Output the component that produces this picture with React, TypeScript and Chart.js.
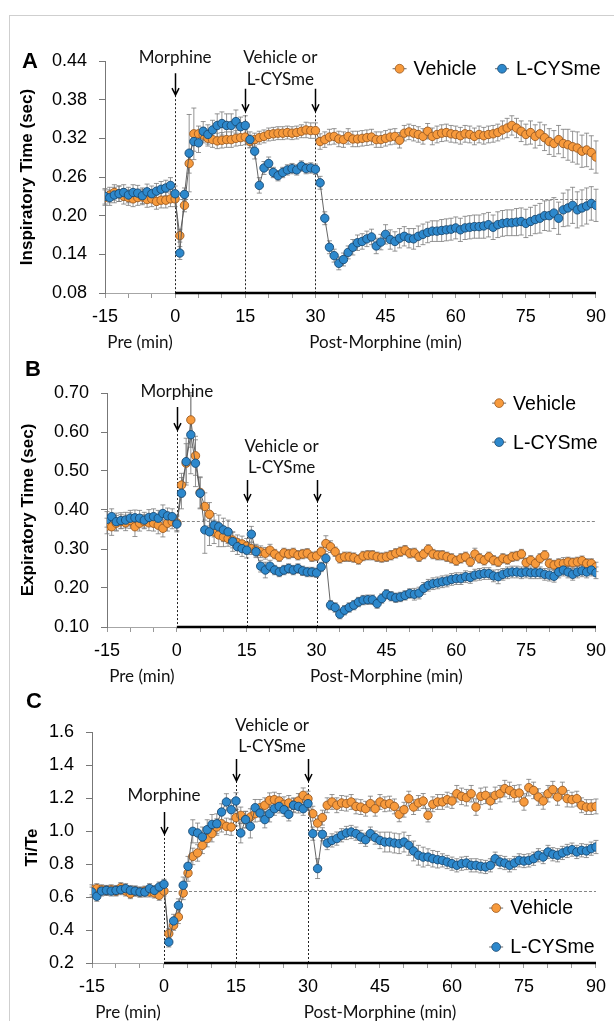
import React, { useEffect, useRef } from 'react';
import { Chart, registerables } from 'chart.js';

Chart.register(...registerables);

// ---------------- DATA ----------------
const minutes = [
  -15, -14, -13, -12, -11, -10, -9, -8, -7, -6, -5, -4, -3, -2, -1, 0,
  1, 2, 3, 4, 5, 6, 7, 8, 9, 10, 11, 12, 13, 14, 15, 16, 17, 18, 19, 20,
  21, 22, 23, 24, 25, 26, 27, 28, 29, 30, 31, 32, 33, 34, 35, 36, 37, 38, 39, 40,
  41, 42, 43, 44, 45, 46, 47, 48, 49, 50, 51, 52, 53, 54, 55, 56, 57, 58, 59, 60,
  61, 62, 63, 64, 65, 66, 67, 68, 69, 70, 71, 72, 73, 74, 75, 76, 77, 78, 79, 80,
  81, 82, 83, 84, 85, 86, 87, 88, 89, 90,
];

const seriesNames = ['Vehicle', 'L-CYSme'];
const xSubTitles = ['Pre (min)', 'Post-Morphine (min)'];
const xTickLabels = ['-15', '0', '15', '30', '45', '60', '75', '90'];

// Panel A: Inspiratory time (sec)
const tiVehicle = [
  0.228, 0.232, 0.236, 0.234, 0.230, 0.228, 0.226, 0.228, 0.229, 0.225, 0.226, 0.222, 0.224, 0.224, 0.226, 0.226,
  0.169, 0.216, 0.281, 0.327, 0.327, 0.325, 0.320, 0.318, 0.316, 0.317,
  0.318, 0.318, 0.320, 0.321, 0.322, 0.315, 0.318, 0.321, 0.323, 0.326,
  0.327, 0.328, 0.328, 0.329, 0.328, 0.329, 0.331, 0.333, 0.332, 0.332,
  0.315, 0.318, 0.322, 0.323, 0.319, 0.318, 0.323, 0.319, 0.319, 0.320,
  0.321, 0.322, 0.318, 0.318, 0.320, 0.322, 0.323, 0.317, 0.328, 0.330,
  0.328, 0.326, 0.323, 0.331, 0.323, 0.326, 0.328, 0.329, 0.327, 0.326,
  0.324, 0.327, 0.326, 0.323, 0.326, 0.324, 0.326, 0.327, 0.329, 0.333,
  0.336, 0.340, 0.336, 0.331, 0.326, 0.329, 0.323, 0.327, 0.321, 0.315,
  0.312, 0.318, 0.312, 0.310, 0.307, 0.305, 0.300, 0.302, 0.298, 0.291,
];
const tiVehicleErr = [
  0.012, 0.012, 0.012, 0.012, 0.012, 0.012, 0.012, 0.012, 0.012, 0.012, 0.012, 0.012, 0.012, 0.012, 0.012, 0.012,
  0.010, 0.010, 0.015, 0.040, 0.012, 0.012, 0.012, 0.012, 0.012, 0.012,
  0.012, 0.012, 0.012, 0.012, 0.012, 0.010, 0.010, 0.010, 0.010, 0.010,
  0.010, 0.010, 0.010, 0.010, 0.010, 0.010, 0.010, 0.012, 0.012, 0.012,
  0.012, 0.012, 0.012, 0.012, 0.012, 0.012, 0.012, 0.012, 0.012, 0.012,
  0.012, 0.012, 0.012, 0.012, 0.012, 0.012, 0.012, 0.012, 0.012, 0.012,
  0.012, 0.012, 0.012, 0.012, 0.013, 0.013, 0.013, 0.013, 0.013, 0.013,
  0.013, 0.013, 0.013, 0.013, 0.013, 0.013, 0.013, 0.013, 0.013, 0.014,
  0.015, 0.015, 0.015, 0.016, 0.016, 0.018, 0.018, 0.018, 0.020, 0.020,
  0.020, 0.022, 0.022, 0.024, 0.024, 0.025, 0.025, 0.026, 0.026, 0.025,
];
const tiCys = [
  0.230, 0.228, 0.232, 0.234, 0.236, 0.232, 0.236, 0.235, 0.231, 0.237, 0.234, 0.238, 0.241, 0.243, 0.247, 0.234,
  0.142, 0.233, 0.297, 0.315, 0.313, 0.331, 0.326, 0.333, 0.340, 0.343,
  0.340, 0.340, 0.346, 0.338, 0.340, 0.318, 0.300, 0.247, 0.274, 0.281,
  0.267, 0.262, 0.267, 0.271, 0.273, 0.271, 0.277, 0.273, 0.274, 0.272,
  0.251, 0.196, 0.151, 0.138, 0.126, 0.132, 0.143, 0.151, 0.158, 0.160,
  0.164, 0.167, 0.153, 0.159, 0.171, 0.163, 0.160, 0.165, 0.168, 0.165,
  0.164, 0.168, 0.171, 0.174, 0.176, 0.176, 0.177, 0.178, 0.179, 0.181,
  0.178, 0.181, 0.182, 0.183, 0.183, 0.184, 0.186, 0.182, 0.186, 0.188,
  0.189, 0.189, 0.190, 0.191, 0.188, 0.191, 0.194, 0.196, 0.200, 0.200,
  0.204, 0.196, 0.209, 0.212, 0.216, 0.209, 0.212, 0.215, 0.219, 0.216,
];
const tiCysErr = [
  0.012, 0.012, 0.012, 0.012, 0.012, 0.012, 0.012, 0.012, 0.012, 0.012, 0.012, 0.012, 0.012, 0.012, 0.012, 0.012,
  0.010, 0.010, 0.060, 0.015, 0.015, 0.015, 0.015, 0.015, 0.018, 0.018,
  0.018, 0.018, 0.018, 0.015, 0.015, 0.012, 0.012, 0.012, 0.010, 0.010,
  0.008, 0.008, 0.008, 0.008, 0.008, 0.008, 0.008, 0.008, 0.008, 0.008,
  0.010, 0.010, 0.010, 0.010, 0.010, 0.010, 0.010, 0.012, 0.012, 0.012,
  0.012, 0.012, 0.012, 0.012, 0.015, 0.015, 0.015, 0.015, 0.015, 0.015,
  0.016, 0.016, 0.016, 0.016, 0.016, 0.016, 0.017, 0.017, 0.017, 0.017,
  0.018, 0.018, 0.018, 0.018, 0.018, 0.019, 0.019, 0.019, 0.020, 0.020,
  0.020, 0.020, 0.021, 0.021, 0.022, 0.022, 0.022, 0.023, 0.023, 0.024,
  0.024, 0.025, 0.026, 0.028, 0.028, 0.028, 0.028, 0.028, 0.026, 0.025,
];

// Panel B: Expiratory time (sec)
const teVehicle = [
  0.359, 0.357, 0.366, 0.370, 0.367, 0.373, 0.357, 0.366, 0.370, 0.367, 0.366, 0.361, 0.353, 0.366, 0.370, 0.367,
  0.464, 0.520, 0.631, 0.539, 0.445, 0.409, 0.389, 0.344, 0.336, 0.331,
  0.327, 0.323, 0.316, 0.313, 0.307, 0.301, 0.297, 0.293, 0.289, 0.297,
  0.287, 0.280, 0.290, 0.287, 0.290, 0.284, 0.287, 0.289, 0.280, 0.282,
  0.293, 0.314, 0.306, 0.293, 0.276, 0.280, 0.280, 0.278, 0.273, 0.282,
  0.284, 0.284, 0.280, 0.278, 0.280, 0.284, 0.289, 0.293, 0.297, 0.289,
  0.290, 0.280, 0.287, 0.299, 0.287, 0.284, 0.284, 0.280, 0.276, 0.270,
  0.276, 0.280, 0.267, 0.287, 0.276, 0.271, 0.280, 0.271, 0.267, 0.276,
  0.273, 0.280, 0.282, 0.287, 0.265, 0.271, 0.263, 0.276, 0.284, 0.263,
  0.259, 0.263, 0.263, 0.267, 0.265, 0.267, 0.270, 0.263, 0.263, 0.254,
];
const teVehicleErr = [
  0.020, 0.022, 0.020, 0.018, 0.020, 0.020, 0.025, 0.020, 0.018, 0.020, 0.020, 0.022, 0.022, 0.020, 0.018, 0.020,
  0.030, 0.050, 0.070, 0.050, 0.040, 0.035, 0.030, 0.030, 0.030, 0.025,
  0.020, 0.020, 0.020, 0.020, 0.020, 0.015, 0.015, 0.015, 0.015, 0.015,
  0.012, 0.012, 0.012, 0.012, 0.012, 0.012, 0.012, 0.012, 0.012, 0.012,
  0.012, 0.020, 0.015, 0.012, 0.012, 0.012, 0.012, 0.012, 0.012, 0.012,
  0.012, 0.012, 0.012, 0.012, 0.012, 0.012, 0.012, 0.012, 0.012, 0.012,
  0.012, 0.012, 0.012, 0.012, 0.012, 0.012, 0.012, 0.012, 0.012, 0.012,
  0.012, 0.012, 0.012, 0.015, 0.012, 0.012, 0.012, 0.012, 0.012, 0.012,
  0.012, 0.012, 0.012, 0.012, 0.012, 0.012, 0.012, 0.012, 0.012, 0.012,
  0.012, 0.012, 0.015, 0.012, 0.012, 0.012, 0.012, 0.012, 0.012, 0.012,
];
const teCys = [
  0.376, 0.383, 0.370, 0.373, 0.374, 0.379, 0.380, 0.379, 0.374, 0.381, 0.383, 0.379, 0.391, 0.385, 0.383, 0.364,
  0.443, 0.524, 0.593, 0.520, 0.443, 0.349, 0.344, 0.361, 0.357, 0.349,
  0.344, 0.319, 0.306, 0.301, 0.297, 0.338, 0.293, 0.256, 0.246, 0.256,
  0.246, 0.241, 0.246, 0.250, 0.246, 0.250, 0.244, 0.241, 0.241, 0.239,
  0.254, 0.276, 0.156, 0.150, 0.133, 0.143, 0.150, 0.156, 0.164, 0.169,
  0.170, 0.170, 0.160, 0.173, 0.184, 0.179, 0.175, 0.177, 0.181, 0.186,
  0.184, 0.187, 0.199, 0.207, 0.211, 0.213, 0.216, 0.218, 0.222, 0.224,
  0.224, 0.229, 0.227, 0.233, 0.235, 0.237, 0.237, 0.231, 0.229, 0.235,
  0.239, 0.241, 0.241, 0.239, 0.241, 0.239, 0.239, 0.239, 0.235, 0.233,
  0.230, 0.241, 0.246, 0.241, 0.235, 0.241, 0.244, 0.241, 0.246, 0.239,
];
const teCysErr = [
  0.020, 0.020, 0.022, 0.020, 0.020, 0.020, 0.020, 0.020, 0.020, 0.020, 0.020, 0.020, 0.022, 0.020, 0.020, 0.020,
  0.040, 0.060, 0.100, 0.060, 0.040, 0.060, 0.035, 0.030, 0.030, 0.030,
  0.030, 0.025, 0.020, 0.020, 0.020, 0.020, 0.015, 0.015, 0.020, 0.015,
  0.012, 0.012, 0.012, 0.012, 0.012, 0.012, 0.012, 0.012, 0.012, 0.012,
  0.012, 0.012, 0.012, 0.012, 0.012, 0.012, 0.012, 0.012, 0.012, 0.012,
  0.012, 0.012, 0.012, 0.012, 0.012, 0.012, 0.012, 0.012, 0.012, 0.012,
  0.015, 0.015, 0.015, 0.015, 0.015, 0.015, 0.015, 0.015, 0.015, 0.015,
  0.015, 0.015, 0.015, 0.015, 0.015, 0.015, 0.015, 0.015, 0.018, 0.015,
  0.015, 0.015, 0.015, 0.015, 0.015, 0.015, 0.015, 0.015, 0.015, 0.015,
  0.015, 0.015, 0.015, 0.015, 0.015, 0.015, 0.015, 0.015, 0.015, 0.015,
];

// Panel C: Ti/Te
const ratioVehicle = [
  0.644, 0.651, 0.644, 0.640, 0.644, 0.636, 0.657, 0.636, 0.620, 0.636, 0.630, 0.636, 0.630, 0.624, 0.610, 0.636,
  0.378, 0.428, 0.479, 0.624, 0.745, 0.846, 0.867, 0.913, 0.954, 0.984,
  1.024, 1.044, 1.028, 1.024, 1.081, 1.095, 1.069, 1.085, 1.105, 1.141,
  1.156, 1.186, 1.190, 1.182, 1.162, 1.170, 1.156, 1.182, 1.216, 1.196,
  1.105, 1.048, 1.081, 1.156, 1.176, 1.156, 1.170, 1.166, 1.176, 1.149,
  1.145, 1.135, 1.166, 1.135, 1.176, 1.162, 1.166, 1.149, 1.101, 1.129,
  1.196, 1.145, 1.170, 1.182, 1.095, 1.162, 1.176, 1.176, 1.190, 1.182,
  1.226, 1.210, 1.202, 1.226, 1.145, 1.210, 1.216, 1.182, 1.216, 1.226,
  1.257, 1.246, 1.226, 1.230, 1.176, 1.263, 1.246, 1.206, 1.182, 1.226,
  1.251, 1.206, 1.246, 1.196, 1.190, 1.196, 1.156, 1.145, 1.145, 1.149,
];
const ratioVehicleErr = [
  0.030, 0.030, 0.030, 0.030, 0.030, 0.030, 0.030, 0.030, 0.030, 0.030, 0.030, 0.030, 0.030, 0.030, 0.030, 0.030,
  0.030, 0.030, 0.040, 0.040, 0.050, 0.050, 0.050, 0.050, 0.050, 0.050,
  0.050, 0.050, 0.050, 0.050, 0.050, 0.050, 0.050, 0.050, 0.050, 0.050,
  0.045, 0.045, 0.045, 0.045, 0.045, 0.045, 0.045, 0.045, 0.045, 0.045,
  0.045, 0.045, 0.045, 0.045, 0.045, 0.045, 0.045, 0.045, 0.045, 0.045,
  0.045, 0.045, 0.045, 0.045, 0.045, 0.045, 0.045, 0.045, 0.045, 0.045,
  0.045, 0.045, 0.045, 0.045, 0.040, 0.045, 0.045, 0.045, 0.045, 0.045,
  0.050, 0.050, 0.050, 0.050, 0.050, 0.050, 0.050, 0.050, 0.050, 0.050,
  0.050, 0.050, 0.050, 0.050, 0.050, 0.050, 0.050, 0.050, 0.050, 0.050,
  0.050, 0.050, 0.050, 0.050, 0.045, 0.045, 0.045, 0.045, 0.045, 0.045,
];
const ratioCys = [
  0.630, 0.604, 0.636, 0.640, 0.636, 0.640, 0.644, 0.651, 0.640, 0.636, 0.630, 0.630, 0.651, 0.640, 0.661, 0.677,
  0.327, 0.455, 0.549, 0.671, 0.786, 0.998, 0.988, 0.964, 1.008, 1.040,
  1.044, 1.115, 1.176, 1.129, 1.182, 0.988, 1.069, 1.028, 1.141, 1.109,
  1.069, 1.105, 1.135, 1.149, 1.129, 1.101, 1.156, 1.149, 1.135, 1.166,
  0.984, 0.772, 0.980, 0.927, 0.943, 0.954, 0.974, 0.988, 0.994, 0.984,
  0.964, 0.947, 0.984, 0.960, 0.943, 0.933, 0.933, 0.927, 0.923, 0.933,
  0.913, 0.879, 0.853, 0.842, 0.842, 0.832, 0.826, 0.822, 0.812, 0.802,
  0.792, 0.802, 0.806, 0.792, 0.792, 0.786, 0.782, 0.792, 0.832, 0.812,
  0.806, 0.792, 0.806, 0.822, 0.818, 0.822, 0.832, 0.853, 0.842, 0.873,
  0.859, 0.853, 0.867, 0.879, 0.887, 0.873, 0.883, 0.879, 0.893, 0.903,
];
const ratioCysErr = [
  0.030, 0.030, 0.030, 0.030, 0.030, 0.030, 0.030, 0.030, 0.030, 0.030, 0.030, 0.030, 0.030, 0.030, 0.030, 0.030,
  0.030, 0.040, 0.040, 0.050, 0.060, 0.070, 0.060, 0.060, 0.060, 0.060,
  0.060, 0.050, 0.050, 0.060, 0.050, 0.060, 0.050, 0.070, 0.050, 0.050,
  0.050, 0.050, 0.040, 0.040, 0.040, 0.040, 0.040, 0.040, 0.040, 0.040,
  0.040, 0.060, 0.040, 0.040, 0.040, 0.040, 0.040, 0.040, 0.040, 0.040,
  0.040, 0.040, 0.040, 0.040, 0.050, 0.060, 0.060, 0.060, 0.060, 0.060,
  0.060, 0.060, 0.060, 0.060, 0.050, 0.050, 0.050, 0.040, 0.040, 0.040,
  0.040, 0.040, 0.040, 0.040, 0.040, 0.040, 0.040, 0.040, 0.040, 0.040,
  0.040, 0.040, 0.040, 0.040, 0.040, 0.040, 0.040, 0.040, 0.040, 0.040,
  0.040, 0.040, 0.040, 0.040, 0.040, 0.040, 0.040, 0.040, 0.040, 0.040,
];

// event annotations
const eventMorphine = 'Morphine';
const eventTreatment = ['Vehicle or', 'L-CYSme'];

// ---------------- STYLE / LAYOUT ----------------
const SANS = "'Liberation Sans', Arial, sans-serif";
const CAL = "Lato, 'Liberation Sans', sans-serif";
const VEH_FILL = '#F79A3C';
const VEH_EDGE = '#9A5A22';
const CYS_FILL = '#2D88CC';
const CYS_EDGE = '#1A4A72';

const panels: any[] = [
  {
    letter: 'A', letterX: 22, letterY: 53,
    top: 15, height: 340, padTop: 46, padBottom: 22, padRight: 14, yWidth: 105,
    yMin: 0.08, yMax: 0.44, yStep: 0.06, decimals: 2,
    title: 'Inspiratory Time (sec)', titlePad: 17,
    baseline: 0.226,
    vehicle: tiVehicle, vehicleErr: tiVehicleErr, cys: tiCys, cysErr: tiCysErr,
    arrows: [
      { x: 0, top: 0.421, tip: 0.387 },
      { x: 15, top: 0.397, tip: 0.362 },
      { x: 30, top: 0.397, tip: 0.362 },
    ],
    labels: [
      { x: 0, y: 0.445, text: eventMorphine },
      { x: 22.5, y: 0.445, text: eventTreatment[0] },
      { x: 22.5, y: 0.412, text: eventTreatment[1] },
    ],
    legend: [
      { x: 48, y: 0.428 },
      { x: 69.9, y: 0.428 },
    ],
  },
  {
    letter: 'B', letterX: 25, letterY: 21,
    top: 355, height: 330, padTop: 38, padBottom: 18, padRight: 13, yWidth: 107,
    yMin: 0.1, yMax: 0.7, yStep: 0.1, decimals: 2,
    title: 'Expiratory Time (sec)', titlePad: 18,
    baseline: 0.373,
    vehicle: teVehicle, vehicleErr: teVehicleErr, cys: teCys, cysErr: teCysErr,
    arrows: [
      { x: 0, top: 0.664, tip: 0.605 },
      { x: 15, top: 0.477, tip: 0.423 },
      { x: 30, top: 0.477, tip: 0.423 },
    ],
    labels: [
      { x: 0, y: 0.705, text: eventMorphine },
      { x: 22.5, y: 0.562, text: eventTreatment[0] },
      { x: 22.5, y: 0.508, text: eventTreatment[1] },
    ],
    legend: [
      { x: 69.2, y: 0.674 },
      { x: 69.2, y: 0.574 },
    ],
  },
  {
    letter: 'C', letterX: 26, letterY: 23,
    top: 685, height: 336, padTop: 47, padBottom: 18, padRight: 11, yWidth: 92,
    yMin: 0.2, yMax: 1.6, yStep: 0.2, decimals: 1,
    title: 'Ti/Te', titlePad: 22,
    baseline: 0.634,
    vehicle: ratioVehicle, vehicleErr: ratioVehicleErr, cys: ratioCys, cysErr: ratioCysErr,
    arrows: [
      { x: 0, top: 1.115, tip: 0.982 },
      { x: 15, top: 1.436, tip: 1.303 },
      { x: 30, top: 1.436, tip: 1.303 },
    ],
    labels: [
      { x: 0, y: 1.218, text: eventMorphine },
      { x: 22.5, y: 1.642, text: eventTreatment[0] },
      { x: 22.5, y: 1.515, text: eventTreatment[1] },
    ],
    legend: [
      { x: 69.2, y: 0.533 },
      { x: 69.2, y: 0.297 },
    ],
  },
];

function makeDecor(p: any) {
  return {
    id: 'decor' + p.letter,
    beforeDatasetsDraw(chart: any) {
      const { ctx, chartArea: area } = chart;
      const x = chart.scales.x;
      const y = chart.scales.y;
      ctx.save();
      // baseline (dashed)
      ctx.strokeStyle = '#666';
      ctx.lineWidth = 0.8;
      ctx.setLineDash([3, 2]);
      const by = Math.round(y.getPixelForValue(p.baseline)) + 0.5;
      ctx.beginPath();
      ctx.moveTo(x.getPixelForValue(0), by);
      ctx.lineTo(x.getPixelForValue(90), by);
      ctx.stroke();
      // vertical dashed event lines
      ctx.strokeStyle = '#222';
      ctx.lineWidth = 1;
      ctx.setLineDash([2, 2]);
      for (const a of p.arrows) {
        const px = Math.round(x.getPixelForValue(a.x)) + 0.5;
        ctx.beginPath();
        ctx.moveTo(px, y.getPixelForValue(a.tip));
        ctx.lineTo(px, area.bottom);
        ctx.stroke();
      }
      ctx.setLineDash([]);
      // error bars
      ctx.strokeStyle = '#7a7a7a';
      ctx.lineWidth = 0.8;
      chart.data.datasets.forEach((ds: any, i: number) => {
        if (!ds.errors) return;
        const meta = chart.getDatasetMeta(i);
        meta.data.forEach((pt: any, j: number) => {
          const v = ds.data[j].y;
          const e = ds.errors[j];
          const y1 = y.getPixelForValue(v + e);
          const y2 = y.getPixelForValue(v - e);
          ctx.beginPath();
          ctx.moveTo(pt.x, y1);
          ctx.lineTo(pt.x, y2);
          ctx.moveTo(pt.x - 2.5, y1);
          ctx.lineTo(pt.x + 2.5, y1);
          ctx.moveTo(pt.x - 2.5, y2);
          ctx.lineTo(pt.x + 2.5, y2);
          ctx.stroke();
        });
      });
      // thick post-morphine axis segment
      ctx.strokeStyle = '#000';
      ctx.lineWidth = 2.6;
      ctx.beginPath();
      ctx.moveTo(x.getPixelForValue(0), area.bottom);
      ctx.lineTo(x.getPixelForValue(90), area.bottom);
      ctx.stroke();
      ctx.restore();
    },
    afterDraw(chart: any) {
      const { ctx, chartArea: area } = chart;
      const x = chart.scales.x;
      const y = chart.scales.y;
      ctx.save();
      // arrows
      ctx.strokeStyle = '#000';
      ctx.lineWidth = 1.5;
      for (const a of p.arrows) {
        const px = Math.round(x.getPixelForValue(a.x)) + 0.5;
        const t = y.getPixelForValue(a.top);
        const b = y.getPixelForValue(a.tip);
        ctx.beginPath();
        ctx.moveTo(px, t);
        ctx.lineTo(px, b);
        ctx.moveTo(px - 3.5, b - 7);
        ctx.lineTo(px, b);
        ctx.lineTo(px + 3.5, b - 7);
        ctx.stroke();
      }
      // event labels
      ctx.fillStyle = '#111';
      ctx.font = '17px ' + CAL;
      ctx.textAlign = 'center';
      ctx.textBaseline = 'middle';
      for (const l of p.labels) {
        ctx.fillText(l.text, x.getPixelForValue(l.x), y.getPixelForValue(l.y));
      }
      // sub x titles
      ctx.fillText(xSubTitles[0], x.getPixelForValue(-7.5), area.bottom + 50);
      ctx.fillText(xSubTitles[1], x.getPixelForValue(45), area.bottom + 50);
      // legend
      ctx.font = '19.5px ' + SANS;
      ctx.textAlign = 'left';
      p.legend.forEach((it: any, i: number) => {
        const ds = chart.data.datasets[i];
        const cx = x.getPixelForValue(it.x);
        const cy = y.getPixelForValue(it.y);
        ctx.strokeStyle = '#666';
        ctx.lineWidth = 1;
        ctx.beginPath();
        ctx.moveTo(cx - 7, cy);
        ctx.lineTo(cx + 7, cy);
        ctx.stroke();
        ctx.beginPath();
        ctx.arc(cx, cy, 4.4, 0, Math.PI * 2);
        ctx.fillStyle = ds.pointBackgroundColor;
        ctx.fill();
        ctx.strokeStyle = ds.pointBorderColor;
        ctx.lineWidth = 0.8;
        ctx.stroke();
        ctx.fillStyle = '#000';
        ctx.fillText(ds.label, cx + 14, cy + 1);
      });
      // panel letter
      ctx.font = 'bold 22px ' + SANS;
      ctx.textAlign = 'left';
      ctx.textBaseline = 'alphabetic';
      ctx.fillStyle = '#000';
      ctx.fillText(p.letter, p.letterX, p.letterY);
      ctx.restore();
    },
  };
}

function buildConfig(p: any): any {
  const toPts = (vals: number[]) => minutes.map((m, i) => ({ x: m, y: vals[i] }));
  const common = {
    showLine: true,
    borderColor: '#555',
    borderWidth: 0.9,
    pointRadius: 4.2,
    pointHoverRadius: 4.2,
    pointBorderWidth: 0.9,
    fill: false,
    tension: 0,
  };
  return {
    type: 'line',
    data: {
      datasets: [
        {
          ...common,
          label: seriesNames[0],
          data: toPts(p.vehicle),
          errors: p.vehicleErr,
          pointBackgroundColor: VEH_FILL,
          pointBorderColor: VEH_EDGE,
          order: 2,
        },
        {
          ...common,
          label: seriesNames[1],
          data: toPts(p.cys),
          errors: p.cysErr,
          pointBackgroundColor: CYS_FILL,
          pointBorderColor: CYS_EDGE,
          order: 1,
        },
      ],
    },
    options: {
      responsive: false,
      maintainAspectRatio: false,
      animation: false,
      events: [],
      layout: { padding: { left: 0, right: p.padRight, top: p.padTop, bottom: p.padBottom } },
      plugins: { legend: { display: false }, tooltip: { enabled: false } },
      scales: {
        x: {
          type: 'linear',
          min: -15,
          max: 90,
          afterFit: (s: any) => { s.height = 40; },
          grid: { drawOnChartArea: false, drawTicks: true, tickLength: 5, color: '#999', lineWidth: 1 },
          border: { display: true, color: '#a6a6a6', width: 1 },
          ticks: {
            stepSize: 5,
            autoSkip: false,
            maxRotation: 0,
            padding: 8,
            color: '#000',
            font: { family: SANS, size: 18 },
            callback: (v: any) => {
              const s = String(Math.round(Number(v)));
              return xTickLabels.includes(s) ? s : '';
            },
          },
        },
        y: {
          type: 'linear',
          min: p.yMin,
          max: p.yMax,
          afterFit: (s: any) => { s.width = p.yWidth; },
          grid: { drawOnChartArea: false, drawTicks: true, tickLength: 6, color: '#777', lineWidth: 1 },
          border: { display: true, color: '#777', width: 1 },
          title: {
            display: true,
            text: p.title,
            color: '#000',
            font: { family: SANS, size: 17, weight: 'bold' },
            padding: { top: p.titlePad, bottom: 0 },
          },
          ticks: {
            stepSize: p.yStep,
            padding: 12,
            color: '#000',
            font: { family: SANS, size: 18 },
            callback: (v: any) => Number(v).toFixed(p.decimals),
          },
        },
      },
    },
    plugins: [makeDecor(p)],
  };
}

function Panel({ p }: { p: any }) {
  const ref = useRef<HTMLCanvasElement | null>(null);
  useEffect(() => {
    if (!ref.current) return;
    const chart = new Chart(ref.current, buildConfig(p));
    return () => chart.destroy();
  }, [p]);
  return (
    <canvas
      ref={ref}
      width={614}
      height={p.height}
      style={{ position: 'absolute', left: 0, top: p.top, width: 614, height: p.height, display: 'block' }}
    />
  );
}

export default function App() {
  return (
    <div style={{ position: 'absolute', left: 0, top: 0, width: 614, height: 1021, overflow: 'hidden', background: '#fff' }}>
      <div
        style={{
          position: 'absolute', left: 9, top: 15, width: 700, height: 1100,
          borderLeft: '1px solid #cfcfcf', borderTop: '1px solid #cfcfcf',
        }}
      />
      {panels.map((p) => (
        <Panel key={p.letter} p={p} />
      ))}
    </div>
  );
}
